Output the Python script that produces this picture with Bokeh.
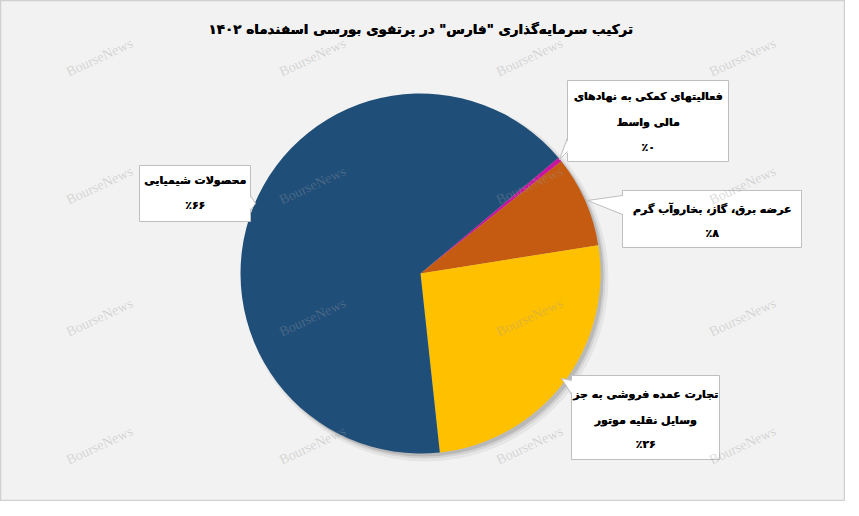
import math
from bokeh.plotting import figure
from bokeh.models import Range1d
from bokeh.embed import file_html
from bokeh.resources import INLINE
from bokeh.core.properties import value

# ---------------- data ----------------
title_text = 'ترکیب سرمایه‌گذاری "فارس" در پرتفوی بورسی اسفندماه ۱۴۰۲'
categories = [
    "فعالیتهای کمکی به نهادهای مالی واسط",
    "عرضه برق، گاز، بخاروآب گرم",
    "تجارت عمده فروشی به جز وسایل نقلیه موتور",
    "محصولات شیمیایی",
]
label_lines = [
    ["فعالیتهای کمکی به نهادهای", "مالی واسط"],
    ["عرضه برق، گاز، بخاروآب گرم"],
    ["تجارت عمده فروشی به جز", "وسایل نقلیه موتور"],
    ["محصولات شیمیایی"],
]
shares = [0.4, 8.2, 25.8, 65.6]
pct_labels = ["٪۰", "٪۸", "٪۲۶", "٪۶۶"]
colors = ["#C8149E", "#C55A11", "#FFC000", "#1F4E79"]
watermark = "BourseNews"

# ---------------- layout ----------------
W, H = 845, 501
TOP = 8
def Y(v):
    return (TOP + H) - v

FONT = value("DejaVu Sans")

p = figure(width=W, height=H, output_backend="svg", toolbar_location=None,
           x_range=Range1d(8, 8 + W), y_range=Range1d(0, H), min_border=0)
p.axis.visible = False
p.grid.visible = False
p.background_fill_color = "#F2F2F2"
p.border_fill_color = "#F2F2F2"
p.outline_line_color = "#D0D0D0"
p.outline_line_width = 1.5

cx, cy, R = 428, Y(281), 180
offset = 50.0

# shadow
for d, r, a in [(5, 183, 0.05), (4, 181, 0.08), (3, 180, 0.12)]:
    p.circle(x=[cx + d], y=[cy - d], radius=r, fill_color="#000000",
             fill_alpha=a, line_color=None)

total = sum(shares)
starts, ends = [], []
c = 0.0
for s in shares:
    c0 = c
    c1 = c + s / total * 360.0
    starts.append(math.radians(90 - offset - c1))
    ends.append(math.radians(90 - offset - c0))
    c = c1
p.wedge(x=[cx] * len(shares), y=[cy] * len(shares), radius=R,
        start_angle=starts, end_angle=ends, fill_color=colors,
        line_color=None)

def bold_text(xs, ys, texts, size):
    for dx in (0.0, 0.5):
        p.text(x=[x + dx for x in xs], y=ys, text=texts,
               text_font=FONT, text_font_style="bold", text_font_size=size,
               text_align="center", text_baseline="middle", text_color="#000000")

# callouts: box (l, t, r, b), pointer base (x, y1, y2), apex, line y's
boxes = [
    (575, 88, 736, 169, (575, 145, 159), (567, 167), [104, 130, 155]),
    (630, 198, 809, 255, (630, 203, 222), (595, 208), [217, 241]),
    (579, 383, 727, 467, (579, 388, 402), (569, 386), [402, 428, 452]),
    (147, 173, 258, 229, (258, 203, 218), (263, 211), [188, 213]),
]
for i, (l, t, r, b, base, apex, ys) in enumerate(boxes):
    p.quad(left=[l], right=[r], top=[Y(t)], bottom=[Y(b)], fill_color="white",
           line_color="#BFBFBF", line_width=1)
    bx, by1, by2 = base
    inward = 1.5 if bx == l else -1.5
    p.patch(x=[bx + inward, apex[0], bx + inward], y=[Y(by1), Y(apex[1]), Y(by2)],
            fill_color="white", line_color=None)
    p.line(x=[bx, apex[0], bx], y=[Y(by1), Y(apex[1]), Y(by2)],
           line_color="#BFBFBF", line_width=1)
    texts = label_lines[i] + [pct_labels[i]]
    xc = (l + r) / 2
    bold_text([xc] * len(texts), [Y(v) for v in ys], texts, "11px")

# title
bold_text([428], [Y(36)], [title_text], "13.5px")

# watermarks
wx = [107, 320, 537, 750]
wy = [65, 193, 325, 453]
xs, ysw = [], []
for yy in wy:
    for xx in wx:
        xs.append(xx)
        ysw.append(Y(yy))
p.text(x=xs, y=ysw, text=[watermark] * len(xs), angle=math.radians(25),
       text_font=value("Liberation Serif"), text_font_size="14px",
       text_align="center", text_baseline="middle", text_color="#9A9A9A",
       text_alpha=0.35)

open("out.html", "w").write(file_html(p, INLINE))
